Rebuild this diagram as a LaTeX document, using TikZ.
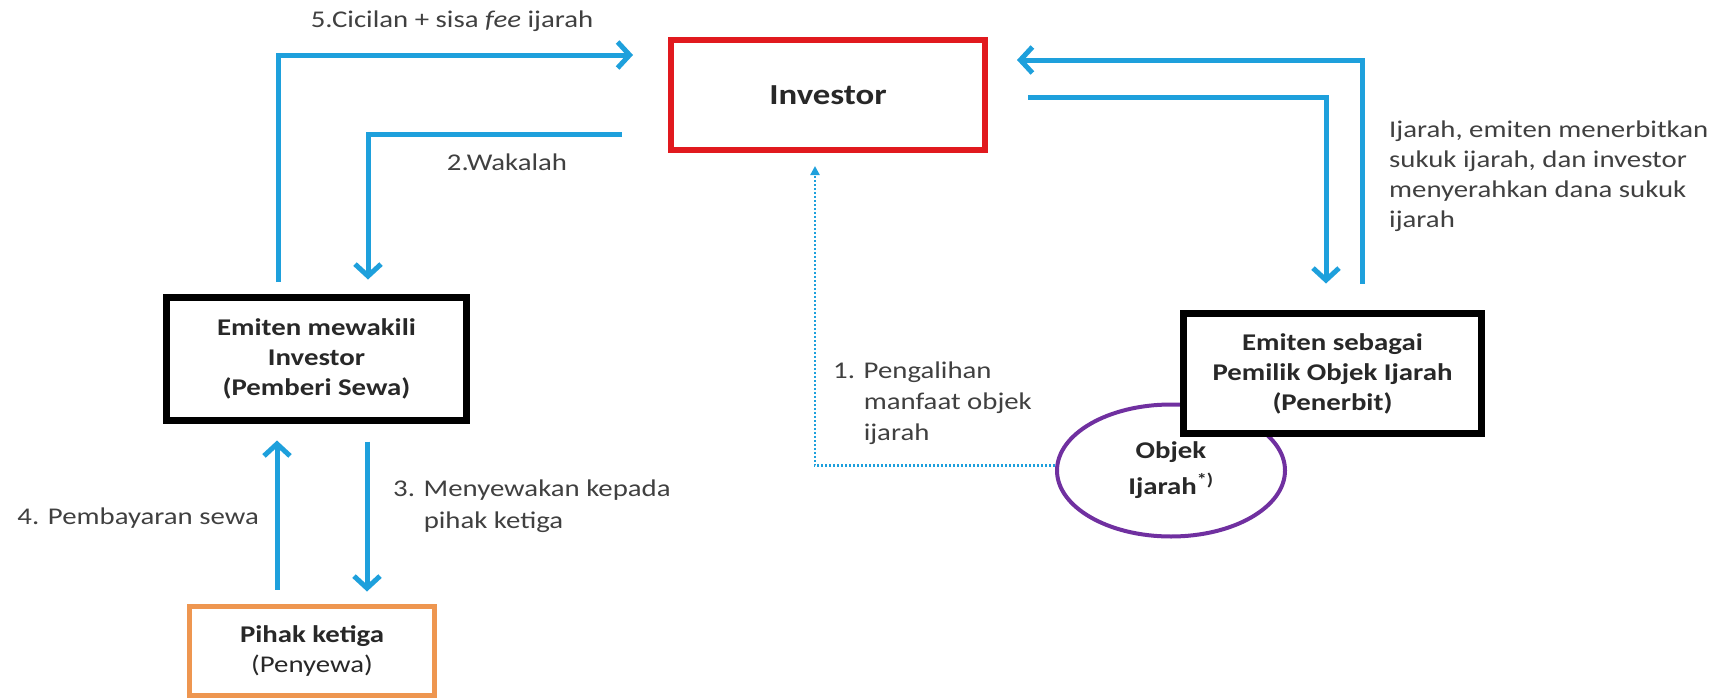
\documentclass[tikz,border=0pt]{standalone}
\usepackage{fontspec}
\setmainfont{Carlito}[FakeStretch=1.2]
\usetikzlibrary{arrows.meta,shapes.geometric}
\definecolor{flowblue}{RGB}{30,160,220}
\definecolor{invred}{RGB}{225,25,30}
\definecolor{thirdorange}{RGB}{238,150,80}
\definecolor{objpurple}{RGB}{112,48,160}
\definecolor{txt}{RGB}{64,64,64}
\definecolor{boxtxt}{RGB}{40,40,40}

\begin{document}
\begin{tikzpicture}[x=1pt,y=-1pt,
  every node/.style={text=txt, font=\fontsize{24}{30}\selectfont},
  party/.style={draw, fill=white, inner sep=0pt, align=center, text=boxtxt,
    font=\fontsize{24}{30}\selectfont\bfseries},
  flow/.style={draw=flowblue, line width=5pt,
    -{Straight Barb[length=12pt,width=26pt]}},
  dotflow/.style={draw=flowblue, line width=2.2pt, dash pattern=on 2pt off 2pt,
    -{Triangle[length=9pt,width=9pt]}},
  lbl/.style={inner sep=0pt, align=left}
]
\useasboundingbox (0,0) rectangle (1719,699);

% parties
\node[party, draw=invred, line width=6pt, minimum width=314, minimum height=110,
      font=\fontsize{29}{32}\selectfont\bfseries] (inv) at (828,95) {Investor};
\node[party, line width=7pt, minimum width=300, minimum height=123] (em1) at (316.5,359)
  {Emiten mewakili\\Investor\\(Pemberi Sewa)};
\node[party, draw=thirdorange, line width=5pt, minimum width=245, minimum height=89] (pihak) at (312,651)
  {Pihak ketiga\\\mdseries(Penyewa)};
\node[ellipse, draw=objpurple, line width=4pt, minimum width=228, minimum height=132,
      inner sep=0pt, align=center, text=boxtxt, font=\fontsize{24}{36}\selectfont\bfseries] (obj) at (1171,470.5)
  {Objek\\Ijarah\textsuperscript{*)}};
\node[party, line width=7pt, minimum width=298, minimum height=120] (em2) at (1332.5,373.5)
  {Emiten sebagai\\Pemilik Objek Ijarah\\(Penerbit)};

% flows on the left
\draw[flow] ([shift={(-38.5,-12)}]em1.north) |- ([shift={(-35,-40)}]inv.west);
\draw[flow] ([shift={(-46,39)}]inv.west) -| ([shift={(51.5,-14.5)}]em1.north);
\draw[flow] ([shift={(-35,-14.5)}]pihak.north) -- ([shift={(-39.5,16.5)}]em1.south);
\draw[flow] ([shift={(50.5,17.5)}]em1.south) -- ([shift={(55,-12.5)}]pihak.north);

% flows on the right
\draw[flow] ([shift={(29.5,-26.5)}]em2.north) |- ([shift={(29,-35)}]inv.east);
\draw[flow] ([shift={(40,2)}]inv.east) -| ([shift={(-6.5,-26.5)}]em2.north);

% transfer of the ijarah object's benefit
\draw[dotflow] ([shift={(0,-5)}]obj.west) -| ([shift={(-13,13)}]inv.south);

% labels
\node[lbl] (l5) at (452,21) {5.Cicilan + sisa \textit{fee} ijarah};
\node[lbl] (l2) at (507,162) {2.Wakalah};
\node[lbl, anchor=east] (l4) at (259,518) {4. Pembayaran sewa};
\node[lbl, anchor=west, font=\fontsize{24}{32}\selectfont] (l3) at (393,506)
  {3. Menyewakan kepada\\\phantom{3. }pihak ketiga};
\node[lbl, anchor=west, font=\fontsize{24}{31}\selectfont] (l1) at (833,403)
  {1. Pengalihan\\\phantom{1. }manfaat objek\\\phantom{1. }ijarah};
\node[lbl, anchor=west] (lr) at (1389,176)
  {Ijarah, emiten menerbitkan\\sukuk ijarah, dan investor\\menyerahkan dana sukuk\\ijarah};
\end{tikzpicture}
\end{document}
